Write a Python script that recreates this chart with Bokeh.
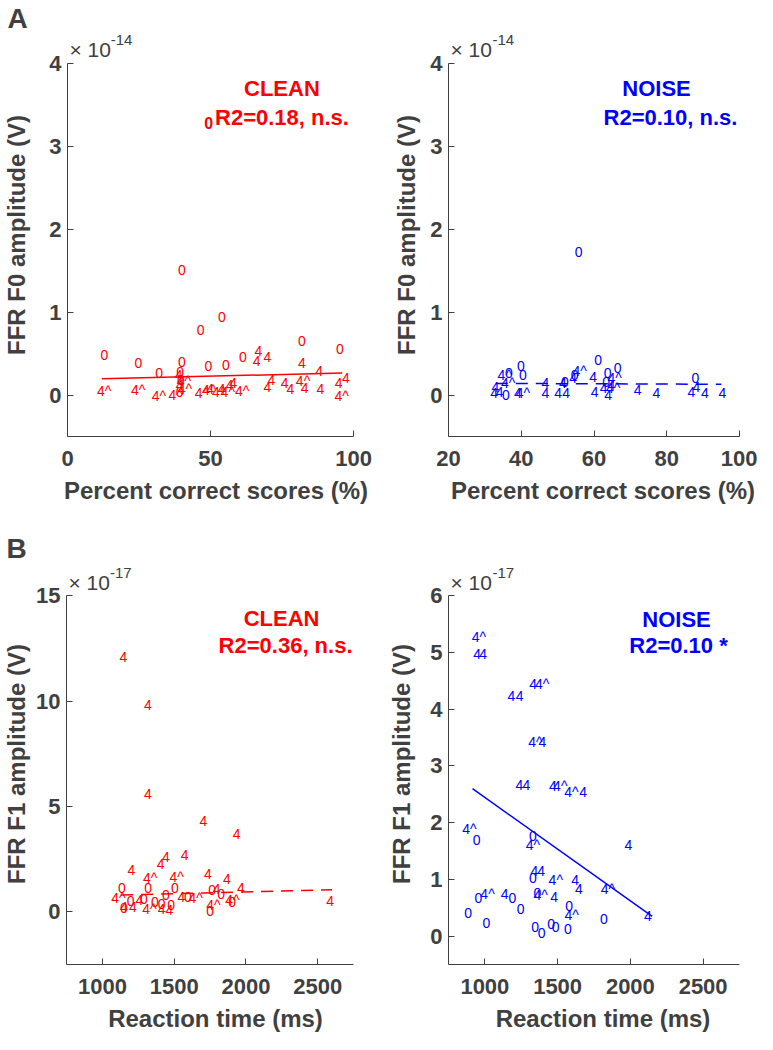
from bokeh.plotting import figure
from bokeh.models import Label, FixedTicker, ColumnDataSource, Title
from bokeh.layouts import column, row
from bokeh.embed import file_html
from bokeh.resources import INLINE
from bokeh.core.properties import value

# ---------------- data (amplitudes in units of the axis multiplier) ----------------
# Panel A, CLEAN: percent correct vs FFR F0 amplitude (x1e-14 V)
a_clean_x = [38.6, 52.6, 45.2, 11.5, 23.4, 38.6, 47.9, 54.0, 59.9, 80.5, 93.8, 30.7, 38.0, 38.3, 37.8,
             65.3, 64.7, 68.5, 80.5, 86.6, 69.9, 68.5, 74.5, 76.5, 81.5, 87.0, 95.9, 93.4, 56.5, 55.3,
             37.5, 37.8, 48.5, 52.5,
             10.3, 22.2, 29.4, 35.3, 38.2, 38.5, 44.5, 47.0, 50.5, 53.5, 58.5, 79.8, 93.3]
a_clean_y = [1.51, 0.94, 0.78, 0.48, 0.39, 0.40, 0.35, 0.36, 0.46, 0.65, 0.55, 0.26, 0.28, 0.18, 0.04,
             0.53, 0.41, 0.46, 0.39, 0.29, 0.18, 0.10, 0.15, 0.07, 0.09, 0.07, 0.20, 0.15, 0.15, 0.12,
             0.24, 0.12, 0.07, 0.07,
             0.05, 0.06, -0.01, 0.00, 0.17, 0.07, 0.03, 0.06, 0.04, 0.04, 0.05, 0.17, -0.01]
a_clean_sym = ["0"] * 15 + ["4"] * 19 + ["4^"] * 13
a_clean_fit_x = [12, 96]
a_clean_fit_y = [0.196, 0.265]

# Panel A, NOISE
a_noise_x = [54.7, 60.1, 38.8, 35.5, 39.4, 65.4, 62.7, 86.8, 53.6, 50.9, 34.7, 62.3,
             58.7, 31.8, 31.5, 33.0, 38.0, 45.6, 45.6, 49.1, 51.3, 50.4, 53.2, 59.1, 61.6, 62.8,
             63.7, 70.9, 76.1, 85.7, 89.4, 94.2, 87.1,
             54.1, 63.7, 33.5, 34.4, 38.5, 63.3]
a_noise_y = [1.73, 0.42, 0.35, 0.27, 0.24, 0.33, 0.27, 0.20, 0.24, 0.16, 0.00, 0.16,
             0.22, 0.10, 0.02, 0.04, 0.02, 0.14, 0.02, 0.02, 0.02, 0.14, 0.20, 0.04, 0.08, 0.00,
             0.12, 0.06, 0.03, 0.04, 0.03, 0.03, 0.10,
             0.29, 0.20, 0.24, 0.14, 0.03, 0.08]
a_noise_sym = ["0"] * 12 + ["4"] * 21 + ["4^"] * 6
a_noise_fit_x = [33, 95]
a_noise_fit_y = [0.14, 0.13]

# Panel B, CLEAN: reaction time vs FFR F1 amplitude (x1e-17 V)
b_clean_x = [1120, 1290, 1290, 1677, 1908, 1545, 1415, 1378, 1175, 1708, 1840, 1769, 1938, 1523,
             1231, 1123, 1185, 1385, 1440, 2560,
             1283, 1468, 1062, 1277, 1723, 1855, 1600,
             1108, 1292, 1477, 1415, 1738, 1800, 1569, 1169, 1262, 1338, 1385, 1452, 1123, 1723, 1877]
b_clean_y = [12.1, 9.8, 5.6, 4.3, 3.69, 2.7, 2.58, 2.29, 2.0, 1.78, 1.55, 1.1, 1.14, 0.72,
             0.56, 0.23, 0.23, 0.14, 0.11, 0.53,
             1.6, 1.66, 0.64, 0.14, 0.34, 0.56, 0.66,
             1.14, 1.14, 1.14, 0.82, 1.05, 0.84, 0.69, 0.53, 0.61, 0.49, 0.38, 0.34, 0.18, 0.03, 0.46]
b_clean_sym = ["4"] * 20 + ["4^"] * 7 + ["0"] * 15
b_clean_fit_x = [1130, 2600]
b_clean_fit_y = [0.8, 1.05]

# Panel B, NOISE
b_noise_x = [910, 844, 1281, 1438, 1797, 969, 1334, 1547, 1345, 1298, 1469, 1545,
             920, 961, 1305, 1155, 1213, 1369, 1211, 1258, 1648, 1959, 1313, 1360, 1594, 1619,
             1109, 1450, 2094, 1440,
             916, 1303, 1303, 928, 1162, 1334, 1219, 1553, 859, 984, 1319, 1363, 1428, 1459, 1544, 1791]
b_noise_y = [5.27, 1.89, 1.61, 0.99, 0.84, 0.75, 0.72, 0.37, 4.44, 3.42, 2.65, 2.55,
             4.97, 4.97, 4.44, 4.24, 4.24, 3.42, 2.67, 2.67, 2.55, 1.60, 1.14, 1.14, 0.99, 0.84,
             0.75, 0.69, 0.35, 2.65,
             1.69, 1.76, 1.02, 0.68, 0.68, 0.76, 0.48, 0.53, 0.40, 0.23, 0.17, 0.06, 0.22, 0.16, 0.12, 0.31]
b_noise_sym = ["4^"] * 12 + ["4"] * 18 + ["0"] * 16
b_noise_fit_x = [915, 2150]
b_noise_fit_y = [2.6, 0.35]

# ---------------- styling ----------------
RED = "#ff0000"
BLUE = "#0000ff"
AXC = "#404040"
FONT = "Liberation Sans"


class Geom:
    """Page geometry: figure box, axes box (where the drawn axes sit) and frame box."""
    def __init__(self, ox, oy, w, h, ax_l, ax_t, ax_r, ax_b, fr_t, fr_r, xlim, ylim):
        self.ox, self.oy, self.w, self.h = ox, oy, w, h
        self.xlim, self.ylim = xlim, ylim
        sx = (ax_r - ax_l) / (xlim[1] - xlim[0])
        sy = (ax_b - ax_t) / (ylim[1] - ylim[0])
        self.fl, self.ft = ax_l, fr_t
        self.fw, self.fh = fr_r - ax_l, ax_b - fr_t
        self.xr = (xlim[0], xlim[1] + (fr_r - ax_r) / sx)
        self.yr = (ylim[0], ylim[1] + (ax_t - fr_t) / sy)

    def data(self, px, py):
        x0, x1 = self.xr
        y0, y1 = self.yr
        return (x0 + (px - self.fl) / self.fw * (x1 - x0),
                y1 - (py - self.ft) / self.fh * (y1 - y0))


def make_fig(g, xticks, yticks, xlabel, ylabel, ylab_standoff):
    p = figure(width=g.w, height=g.h, x_range=g.xr, y_range=g.yr,
               output_backend="svg", toolbar_location=None,
               min_border_left=g.fl - g.ox, min_border_top=g.ft - g.oy,
               min_border_right=g.ox + g.w - g.fl - g.fw,
               min_border_bottom=g.oy + g.h - g.ft - g.fh)
    p.outline_line_color = None
    p.xgrid.visible = False
    p.ygrid.visible = False
    p.background_fill_color = "white"
    p.border_fill_color = "white"
    for ax, ticks, lab, bnd in ((p.xaxis[0], xticks, xlabel, g.xlim), (p.yaxis[0], yticks, ylabel, g.ylim)):
        ax.ticker = FixedTicker(ticks=ticks)
        ax.bounds = bnd
        ax.major_tick_in = 6
        ax.major_tick_out = 0
        ax.minor_tick_in = 0
        ax.minor_tick_out = 0
        ax.axis_line_color = AXC
        ax.major_tick_line_color = AXC
        ax.major_label_text_font = FONT
        ax.major_label_text_font_size = "22px"
        ax.major_label_text_font_style = "bold"
        ax.major_label_text_color = AXC
        ax.axis_label = lab
        ax.axis_label_text_font = FONT
        ax.axis_label_text_font_size = "24px"
        ax.axis_label_text_font_style = "bold"
        ax.axis_label_text_color = AXC
    p.xaxis.major_label_standoff = 14
    p.xaxis.axis_label_standoff = 8
    p.yaxis.major_label_standoff = 6
    p.yaxis.axis_label_standoff = ylab_standoff
    return p


def lab(p, g, px, py, text, size, color, bold=True, align="left"):
    x, y = g.data(px, py)
    p.add_layout(Label(x=x, y=y, text=text, text_font=FONT, text_font_size=f"{size}px",
                       text_font_style="bold" if bold else "normal", text_color=color,
                       text_align=align, text_baseline="middle"))


def panel_letter(p, g, text):
    p.add_layout(Title(text=text, align="left", offset=-(g.fl - g.ox) + 2, standoff=0,
                       text_font=FONT, text_font_size="28px", text_font_style="bold",
                       text_line_height=0.85, text_color=AXC), "above")


def scatter_text(p, xs, ys, syms, color):
    src = ColumnDataSource(dict(x=xs, y=ys, t=syms))
    p.text(x="x", y="y", text="t", source=src, text_color=color, text_font=value(FONT),
           text_font_size="14px", text_align="left", text_baseline="middle")


#          ox   oy   w    h    axL  axT  axR  axB  frT  frR
gA1 = Geom(8,   8,   380, 530, 70,  68,  361, 444, 38,  372, (0, 100), (-0.5, 4))
gA2 = Geom(388, 8,   377, 530, 456, 68,  747, 444, 38,  765, (20, 100), (-0.5, 4))
gB1 = Geom(8,   538, 380, 504, 70,  599, 361, 975, 566, 372, (750, 2750), (-2.5, 15))
gB2 = Geom(388, 538, 377, 504, 456, 599, 747, 975, 566, 765, (750, 2750), (-0.5, 6))

pA1 = make_fig(gA1, [0, 50, 100], [0, 1, 2, 3, 4], "Percent correct scores (%)", "FFR F0 amplitude (V)", 16)
pA2 = make_fig(gA2, [20, 40, 60, 80, 100], [0, 1, 2, 3, 4], "Percent correct scores (%)", "FFR F0 amplitude (V)", 7)
pB1 = make_fig(gB1, [1000, 1500, 2000, 2500], [0, 5, 10, 15], "Reaction time (ms)", "FFR F1 amplitude (V)", 3)
pB2 = make_fig(gB2, [1000, 1500, 2000, 2500], [0, 1, 2, 3, 4, 5, 6], "Reaction time (ms)", "FFR F1 amplitude (V)", 12)

# data marks
scatter_text(pA1, a_clean_x, a_clean_y, a_clean_sym, RED)
pA1.line(a_clean_fit_x, a_clean_fit_y, line_color=RED, line_width=1.5)
scatter_text(pA2, a_noise_x, a_noise_y, a_noise_sym, BLUE)
pA2.line(a_noise_fit_x, a_noise_fit_y, line_color=BLUE, line_width=1.5, line_dash="12 8")
scatter_text(pB1, b_clean_x, b_clean_y, b_clean_sym, RED)
pB1.line(b_clean_fit_x, b_clean_fit_y, line_color=RED, line_width=1.5, line_dash="12 8")
scatter_text(pB2, b_noise_x, b_noise_y, b_noise_sym, BLUE)
pB2.line(b_noise_fit_x, b_noise_fit_y, line_color=BLUE, line_width=1.5)

# multipliers (inside the frame, above the drawn axes)
for p, g, exp, top in ((pA1, gA1, "-14", 54), (pA2, gA2, "-14", 54), (pB1, gB1, "-17", 585), (pB2, gB2, "-17", 585)):
    lab(p, g, g.fl + 2, top, "\u00d7 10", 21, AXC, bold=False)
    lab(p, g, g.fl + 44, top - 9, exp, 15, AXC, bold=False)

# panel letters
panel_letter(pA1, gA1, "A")
panel_letter(pB1, gB1, "B")

# titles
lab(pA1, gA1, 288, 93, "CLEAN", 22, RED, align="center")
lab(pA1, gA1, 220, 123, "R2=0.18, n.s.", 22, RED)
lab(pA1, gA1, 209, 128, "0", 16, RED)
lab(pA2, gA2, 664, 93, "NOISE", 22, BLUE, align="center")
lab(pA2, gA2, 678, 123, "R2=0.10, n.s.", 22, BLUE, align="center")
lab(pB1, gB1, 288, 622, "CLEAN", 22, RED, align="center")
lab(pB1, gB1, 292, 650, "R2=0.36, n.s.", 22, RED, align="center")
lab(pB2, gB2, 684, 623, "NOISE", 22, BLUE, align="center")
lab(pB2, gB2, 686, 650, "R2=0.10 *", 22, BLUE, align="center")

layout = column(row(pA1, pA2, spacing=0), row(pB1, pB2, spacing=0), spacing=0)
open("out.html", "w").write(file_html(layout, INLINE))
